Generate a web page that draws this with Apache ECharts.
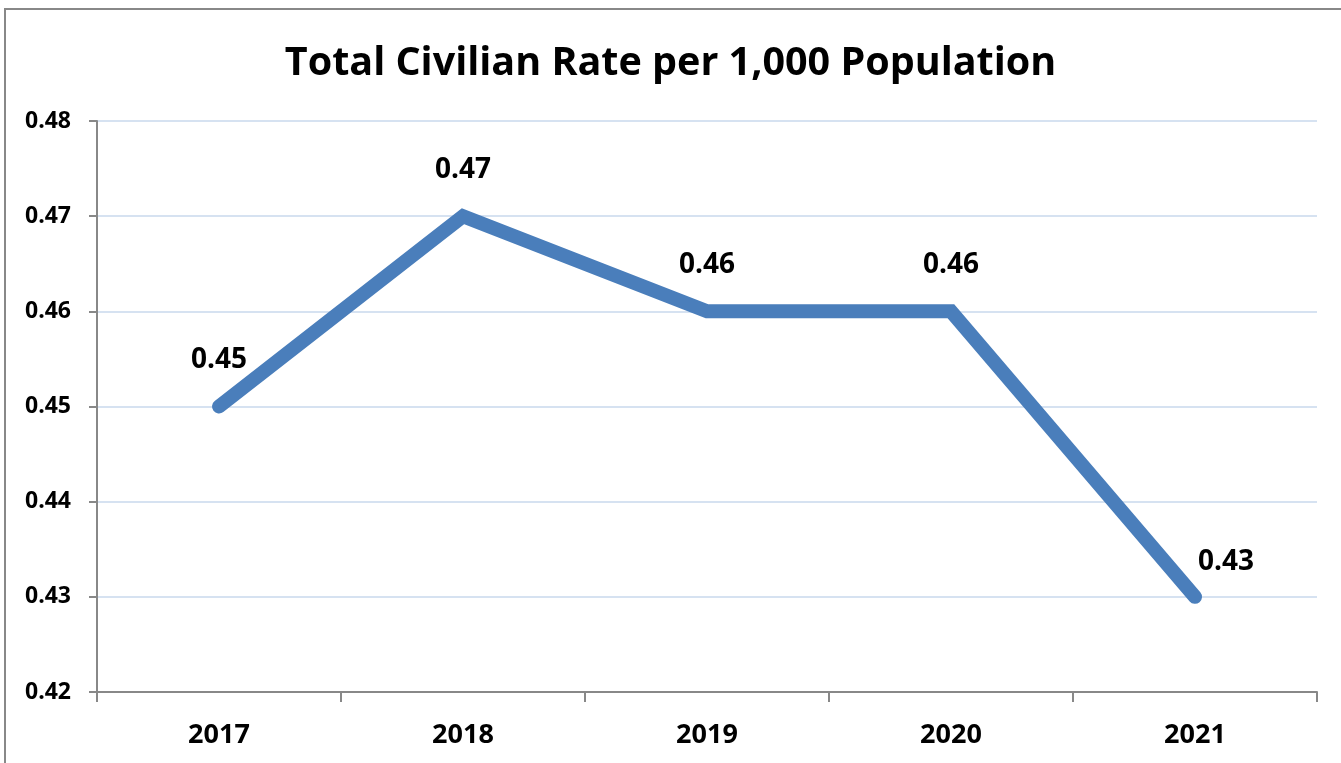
<!DOCTYPE html>
<html><head><meta charset="utf-8">
<script src="https://cdn.jsdelivr.net/npm/echarts@6/dist/echarts.min.js"></script>
<style>html,body{margin:0;padding:0;background:#fff}#c{width:1341px;height:763px}</style>
</head><body><div id="c"></div>
<script>
const titleText = 'Total Civilian Rate per 1,000 Population';
const years = ['2017', '2018', '2019', '2020', '2021'];
const rates = [0.45, 0.47, 0.46, 0.46, 0.43];
const yMin = 0.42, yMax = 0.48, yStep = 0.01;

const FONT = '"Open Sans", "Noto Sans", sans-serif';
const chart = echarts.init(document.getElementById('c'), null, {renderer: 'canvas'});
chart.setOption({
  animation: false,
  backgroundColor: '#fff',
  title: {
    text: titleText, left: 'center', top: 39,
    textStyle: {fontFamily: FONT, fontWeight: 'bold', fontSize: 39.5, color: '#000'}
  },
  graphic: [{
    type: 'rect', shape: {x: 5, y: 9, width: 1345, height: 770},
    style: {fill: 'none', stroke: '#888', lineWidth: 2}, silent: true
  }],
  grid: {left: 97, right: 24, top: 121, bottom: 71},
  xAxis: {
    type: 'category', data: years, boundaryGap: true,
    axisLine: {lineStyle: {color: '#888', width: 2}},
    axisTick: {show: true, length: 10, lineStyle: {color: '#888', width: 2}},
    axisLabel: {margin: 30, fontFamily: FONT, fontWeight: 'bold', fontSize: 27, color: '#000'}
  },
  yAxis: {
    type: 'value', min: yMin, max: yMax, interval: yStep,
    axisLine: {show: true, lineStyle: {color: '#888', width: 2}},
    axisTick: {show: true, length: 8, lineStyle: {color: '#888', width: 2}},
    splitLine: {lineStyle: {color: '#c9d9ec', width: 1.5}},
    axisLabel: {margin: 26, fontFamily: FONT, fontWeight: 'bold', fontSize: 23, color: '#000',
      formatter: v => v.toFixed(2)}
  },
  series: [{
    type: 'line', data: rates.map((v, i) => (i === rates.length - 1)
      ? {value: v, label: {offset: [31, 11]}} : v),
    symbol: 'circle', symbolSize: 2, showSymbol: true,
    itemStyle: {color: '#4a7ebb'},
    lineStyle: {color: '#4a7ebb', width: 14, cap: 'round', join: 'miter'},
    label: {show: true, position: 'top', distance: 31, formatter: p => p.value.toFixed(2),
      fontFamily: FONT, fontWeight: 'bold', fontSize: 28, color: '#000'}
  }]
});
</script></body></html>
